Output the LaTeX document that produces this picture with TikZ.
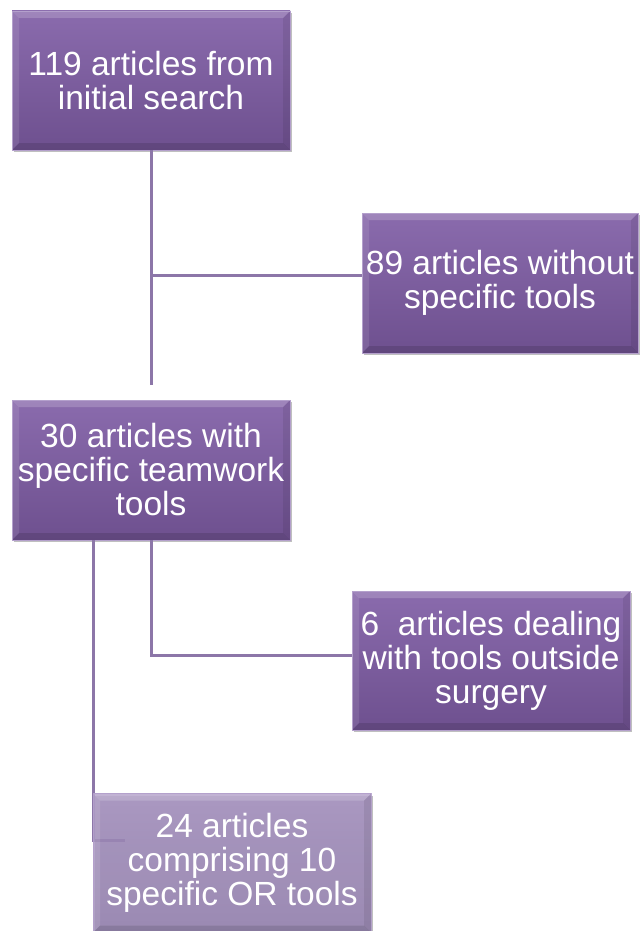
\documentclass[tikz,border=0pt]{standalone}
\usepackage{fontspec}
\setmainfont{Liberation Sans}
\usetikzlibrary{calc,shadows}
\definecolor{boxtop}{HTML}{8A6BAD}
\definecolor{boxbot}{HTML}{6E508F}
\definecolor{boxedge}{HTML}{B4A0CC}
\definecolor{litetop}{HTML}{A792C2}
\definecolor{litebot}{HTML}{9581B1}
\definecolor{connc}{HTML}{8C76A8}
\tikzset{
  bevel/.style={path picture={
    \fill[white,opacity=0.18] (path picture bounding box.north west) -- (path picture bounding box.north east)
      -- ($(path picture bounding box.north east)+(-7pt,-7pt)$) -- ($(path picture bounding box.north west)+(7pt,-7pt)$) -- cycle;
    \fill[white,opacity=0.10] (path picture bounding box.north west) -- ($(path picture bounding box.north west)+(7pt,-7pt)$)
      -- ($(path picture bounding box.south west)+(7pt,7pt)$) -- (path picture bounding box.south west) -- cycle;
    \fill[black,opacity=0.12] (path picture bounding box.south west) -- (path picture bounding box.south east)
      -- ($(path picture bounding box.south east)+(-7pt,7pt)$) -- ($(path picture bounding box.south west)+(7pt,7pt)$) -- cycle;
    \fill[black,opacity=0.08] (path picture bounding box.north east) -- ($(path picture bounding box.north east)+(-7pt,-7pt)$)
      -- ($(path picture bounding box.south east)+(-7pt,7pt)$) -- (path picture bounding box.south east) -- cycle;
  }},
  flowbox/.style={rectangle, minimum width=278pt, minimum height=139pt, inner sep=0pt,
    top color=boxtop, bottom color=boxbot, draw=boxedge, line width=0.8pt, text=white,
    align=center, font=\fontsize{33.5}{34}\selectfont, bevel,
    drop shadow={shadow xshift=2pt, shadow yshift=-2pt, opacity=0.25, fill=black}},
  litebox/.style={flowbox, top color=litetop, bottom color=litebot, fill opacity=0.85, draw opacity=0.85, text opacity=1},
  connline/.style={draw=connc, line width=3pt}
}
\begin{document}
\begin{tikzpicture}[x=1pt,y=-1pt]
\useasboundingbox (0,0) rectangle (641,931);
\node[flowbox] (b1) at (151,80.5) {119 articles from\\initial search};
\node[flowbox, minimum width=276pt, minimum height=140pt] (b2) at (500,283) {89 articles without\\specific tools};
\node[flowbox, minimum height=140pt] (b3) at (151,470) {30 articles with\\specific teamwork\\tools};
\node[flowbox] (b4) at (491,660.5) {6\ \ articles dealing\\with tools outside\\surgery};
\coordinate (e1) at ($(b3.north)+(0,-15)$);
\coordinate (j2) at ($(b2.west)+(0,-8)$);
\coordinate (j4) at ($(b4.west)+(0,-5)$);
\coordinate (s3) at (93,540);
\coordinate (k3) at (93,840);
\coordinate (e3) at (125,840);
\draw[connline] (b1.south) -- (e1 -| b1.south);
\draw[connline] (b1.south |- j2) -- (j2);
\draw[connline] (b3.south) -- (b3.south |- j4) -- (j4);
\draw[connline] (s3) -- (k3) -- (e3);
\node[litebox] (b5) at (232,863) {24 articles\\comprising 10\\specific OR tools};
\end{tikzpicture}
\end{document}
